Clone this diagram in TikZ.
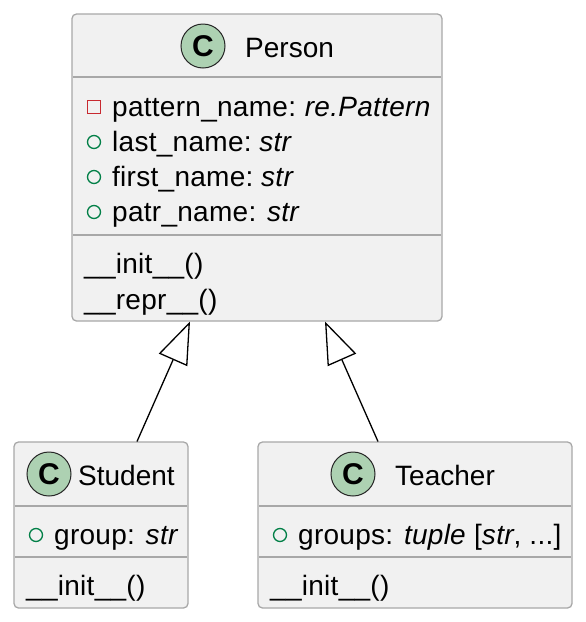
\documentclass[tikz,border=0pt]{standalone}
\usepackage{fontspec}
\setmainfont{Liberation Sans}
\newfontfamily\memberfont[LetterSpace=1.0]{Liberation Sans}
\usetikzlibrary{arrows.meta}
\definecolor{boxfill}{HTML}{F1F1F1}
\definecolor{boxline}{HTML}{A8A8A8}
\definecolor{spot}{HTML}{ADD1B2}
\definecolor{pub}{HTML}{038048}
\definecolor{priv}{HTML}{C82930}
\tikzset{
  x=1pt,y=-1pt,
  classbox/.style={draw=boxline,line width=1.3pt,fill=boxfill,rounded corners=4.5pt,inner sep=0pt},
  sepline/.style={draw=boxline,line width=1.3pt},
  spotc/.style={circle,draw=black!85,line width=1pt,fill=spot,minimum size=44pt,inner sep=0pt,font=\fontsize{30}{30}\selectfont\bfseries},
  txt/.style={inner sep=0pt,anchor=base west,font=\fontsize{28}{30}\selectfont},
  member/.style={inner sep=0pt,anchor=base west,font=\fontsize{28}{30}\memberfont},
  pubmark/.style={circle,draw=pub,line width=1.3pt,minimum size=13pt,inner sep=0pt},
  privmark/.style={rectangle,draw=priv,line width=1.3pt,minimum size=13pt,inner sep=0pt},
  inherit/.style={draw=black,line width=1.3pt,-{Triangle[open,fill=white,length=42pt,width=31pt]}},
}
\begin{document}
\begin{tikzpicture}
\useasboundingbox (0,0) rectangle (586,622);
\node[classbox,minimum width=370pt,minimum height=307pt] (person) at (257,167.5) {};
\node[classbox,minimum width=174pt,minimum height=166pt] (student) at (101,525) {};
\node[classbox,minimum width=314pt,minimum height=166pt] (teacher) at (415,525) {};
\draw[sepline] (73,77) -- (441,77);
\draw[sepline] (73,235) -- (441,235);
\draw[sepline] (15,506) -- (187,506);
\draw[sepline] (15,557) -- (187,557);
\draw[sepline] (259,506) -- (571,506);
\draw[sepline] (259,557) -- (571,557);
\node[spotc] (cp) at (203,46) {C};
\node[txt] (tp) at (245,57) {Person};
\node[privmark] (m1) at (94,107) {};
\node[member] (a1) at (112,116) {pattern\_name:\hspace{-2pt} \textit{re.Pattern}};
\node[pubmark] (m2) at (94,142) {};
\node[member] (a2) at (112,151) {last\_name:\hspace{-3pt} \textit{str}};
\node[pubmark] (m3) at (94,177) {};
\node[member] (a3) at (112,186) {first\_name:\hspace{-3pt} \textit{str}};
\node[pubmark] (m4) at (94,212) {};
\node[member] (a4) at (112,221) {patr\_name: \textit{str}};
\node[member] (o1) at (84,273) {\_\_init\_\_()};
\node[member] (o2) at (84,309) {\_\_repr\_\_()};
\node[spotc] (cs) at (49,474) {C};
\node[txt] (ts) at (78,485) {Student};
\node[pubmark] (m5) at (36,535) {};
\node[member] (a5) at (54,544) {group: \textit{str}};
\node[member] (o3) at (26,595) {\_\_init\_\_()};
\node[spotc] (ct) at (353,474) {C};
\node[txt] (tt) at (395,485) {Teacher};
\node[pubmark] (m6) at (280,535) {};
\node[member] (a6) at (298,544) {groups: \textit{tuple} [\textit{str}, ...]};
\node[member] (o4) at (270,595) {\_\_init\_\_()};
\coordinate (sfrom) at (137,441.5);
\coordinate (sto) at (190,321.5);
\coordinate (tfrom) at (378,441.5);
\coordinate (tto) at (325,321.5);
\draw[inherit] (sfrom) -- (sto);
\draw[inherit] (tfrom) -- (tto);
\end{tikzpicture}
\end{document}
